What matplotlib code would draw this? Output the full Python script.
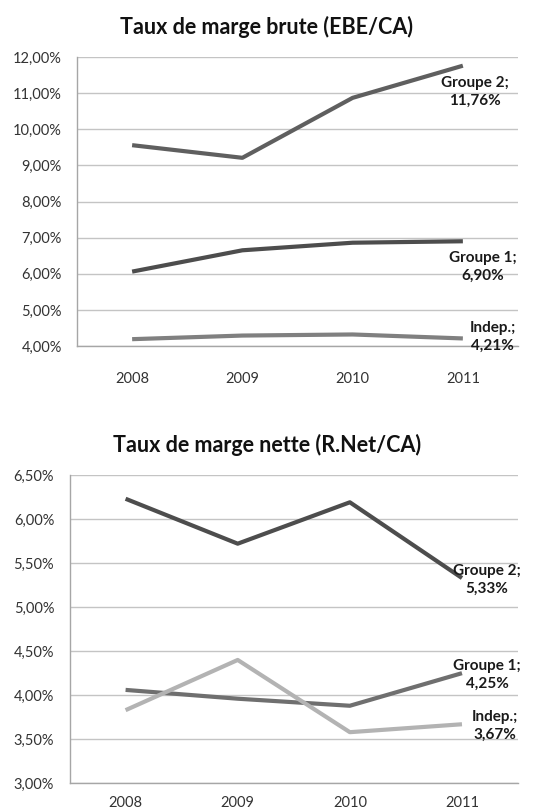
import matplotlib.pyplot as plt

plt.rcParams['font.family'] = ['Lato', 'DejaVu Sans']

annees = ["2008", "2009", "2010", "2011"]

# Taux de marge brute (EBE/CA), en %
brute_groupe2 = [9.56, 9.21, 10.87, 11.76]
brute_groupe1 = [6.06, 6.65, 6.86, 6.90]
brute_indep = [4.19, 4.29, 4.32, 4.21]

# Taux de marge nette (R.Net/CA), en %
nette_groupe2 = [6.23, 5.72, 6.19, 5.33]
nette_groupe1 = [4.06, 3.96, 3.88, 4.25]
nette_indep = [3.83, 4.40, 3.58, 3.67]


def fmt_pct(v):
    return f"{v:.2f}".replace(".", ",") + "%"


def tracer(ax, series, yticks, labels_offsets, xpad):
    x = range(len(annees))
    for nom, valeurs, couleur in series:
        ax.plot(x, valeurs, color=couleur, lw=3, solid_capstyle='butt', zorder=3)
    for (nom, valeurs, couleur), (dx, dy) in zip(series, labels_offsets):
        ax.annotate(f"{nom};\n{fmt_pct(valeurs[-1])}", xy=(3, valeurs[-1]),
                    xytext=(dx, dy), textcoords='offset pixels',
                    ha='center', va='center', fontsize=11, fontweight='bold',
                    color='#1a1a1a', linespacing=1.35, zorder=4,
                    annotation_clip=False)
    ax.set_xlim(-0.5, 3.5)
    ax.set_ylim(yticks[0], yticks[-1])
    ax.set_yticks(yticks)
    ax.set_yticklabels([fmt_pct(v) for v in yticks])
    ax.set_xticks(list(x))
    ax.set_xticklabels(annees)
    ax.grid(axis='y', color='#c4c4c4', lw=1)
    ax.set_axisbelow(True)
    for s in ['top', 'right']:
        ax.spines[s].set_visible(False)
    for s in ['left', 'bottom']:
        ax.spines[s].set_color('#a6a6a6')
        ax.spines[s].set_linewidth(1)
    ax.tick_params(length=0, labelsize=10.5, colors='#333333', pad=11)
    ax.tick_params(axis='x', pad=xpad)


fig = plt.figure(figsize=(5.5, 8.1), dpi=100)

ax1 = fig.add_axes([0.14, 0.5728, 0.8018, 0.3568])
tracer(ax1,
       [("Groupe 2", brute_groupe2, '#5f5f5f'),
        ("Groupe 1", brute_groupe1, '#4d4d4d'),
        ("Indep.", brute_indep, '#808080')],
       [4, 5, 6, 7, 8, 9, 10, 11, 12],
       [(12, -26), (20, -26), (30, 2)], 19)

ax2 = fig.add_axes([0.1264, 0.0330, 0.8155, 0.3806])
tracer(ax2,
       [("Groupe 2", nette_groupe2, '#4d4d4d'),
        ("Groupe 1", nette_groupe1, '#6f6f6f'),
        ("Indep.", nette_indep, '#b3b3b3')],
       [3.0, 3.5, 4.0, 4.5, 5.0, 5.5, 6.0, 6.5],
       [(25, -2), (25, -2), (33, -2)], 9)

fig.text(267 / 550, 1 - 27 / 810, "Taux de marge brute (EBE/CA)",
         ha='center', va='center', fontsize=15.5, fontweight='bold', color='#111111')
fig.text(267 / 550, 1 - 445 / 810, "Taux de marge nette (R.Net/CA)",
         ha='center', va='center', fontsize=15.5, fontweight='bold', color='#111111')

fig.savefig("out.png", dpi=100)
